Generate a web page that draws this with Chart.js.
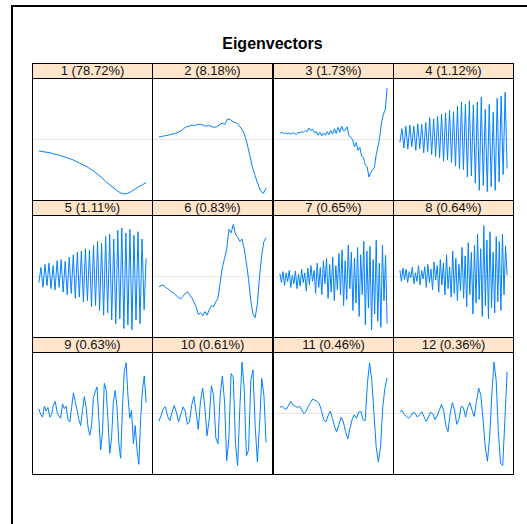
<!DOCTYPE html>
<html>
<head>
<meta charset="utf-8">
<script src="https://cdn.jsdelivr.net/npm/chart.js@4/dist/chart.umd.min.js"></script>
<style>
  html, body { margin: 0; padding: 0; background: #fff; }
  body { width: 527px; height: 524px; position: relative; overflow: hidden;
         font-family: "Liberation Sans", Arial, sans-serif; }
  .frame { position: absolute; left: 11px; top: 5px; width: 600px; height: 600px;
           border: 2px solid #000; box-sizing: border-box; }
  .title { position: absolute; left: 32px; width: 481px; top: 35px; text-align: center;
           font-weight: bold; font-size: 16px; color: #000; }
  .strip { position: absolute; box-sizing: border-box; border: 1px solid #000;
           background: #ffe5cc; font-size: 13px; line-height: 14px; text-align: center; color: #111; }
  .panel { position: absolute; box-sizing: border-box; border: 1px solid #000; background: #fff; }
  .panel canvas { position: absolute; left: 0; top: 0; }
</style>
</head>
<body>
<div class="frame"></div>
<div class="title">Eigenvectors</div>
<div id="grid"></div>
<script>
// Component numbers and their share of the total (percent)
const components = [1, 2, 3, 4, 5, 6, 7, 8, 9, 10, 11, 12];
const shares = [78.72, 8.18, 1.73, 1.12, 1.11, 0.83, 0.65, 0.64, 0.63, 0.61, 0.46, 0.36];

// Eigenvector values, one array per component
const ev1 = [-0.19, -0.20, -0.21, -0.22, -0.24, -0.25, -0.27, -0.29, -0.31, -0.33,
             -0.36, -0.39, -0.42, -0.45, -0.49, -0.53, -0.58, -0.63, -0.69, -0.74,
             -0.79, -0.84, -0.88, -0.90, -0.89, -0.86, -0.82, -0.78, -0.75, -0.71];

const ev2 = [0.04, 0.05, 0.06, 0.07, 0.08, 0.09, 0.10, 0.12, 0.14, 0.18,
             0.21, 0.22, 0.24, 0.23, 0.25, 0.25, 0.24, 0.22, 0.23, 0.22,
             0.20, 0.21, 0.24, 0.27, 0.25, 0.34, 0.33, 0.29, 0.28, 0.24,
             0.18, 0.10, -0.05, -0.25, -0.45, -0.60, -0.73, -0.85, -0.89, -0.80];

const ev3 = [0.10, 0.12, 0.10, 0.11, 0.09, 0.11, 0.09, 0.11, 0.10, 0.08,
             0.12, 0.11, 0.13, 0.12, 0.15, 0.13, 0.19, 0.15, 0.17, 0.11,
             0.13, 0.07, 0.12, 0.06, 0.11, 0.07, 0.13, 0.08, 0.15, 0.09,
             0.18, 0.10, 0.20, 0.12, 0.22, 0.14, 0.16, 0.21, 0.06, 0.04,
             0.00, -0.12, -0.05, -0.18, -0.13, -0.28, -0.30, -0.42, -0.45, -0.62,
             -0.55, -0.50, -0.46, -0.25, -0.12, 0.05, 0.30, 0.42, 0.50, 0.85];

const ev4 = [-0.05, 0.18, -0.14, 0.22, -0.16, 0.24, -0.12, 0.22, -0.18, 0.26,
             -0.15, 0.25, -0.22, 0.28, -0.20, 0.36, -0.25, 0.34, -0.28, 0.38,
             -0.30, 0.42, -0.36, 0.44, -0.34, 0.48, -0.38, 0.46, -0.44, 0.55,
             -0.48, 0.62, -0.50, 0.58, -0.62, 0.64, -0.60, 0.57, -0.72, 0.62,
             -0.84, 0.70, -0.76, 0.50, -0.86, 0.58, -0.78, 0.45, -0.84, 0.68,
             -0.70, 0.72, -0.58, 0.78, -0.48];

const ev5 = [-0.10, 0.15, -0.18, 0.20, -0.15, 0.22, -0.20, 0.18, -0.22, 0.26,
             -0.18, 0.28, -0.26, 0.25, -0.30, 0.32, -0.28, 0.36, -0.36, 0.40,
             -0.34, 0.42, -0.42, 0.46, -0.40, 0.44, -0.50, 0.52, -0.48, 0.58,
             -0.56, 0.55, -0.64, 0.66, -0.60, 0.70, -0.72, 0.62, -0.78, 0.76,
             -0.70, 0.80, -0.86, 0.72, -0.80, 0.78, -0.88, 0.68, -0.72, 0.74,
             -0.78, 0.62, -0.55, 0.30];

const ev6 = [-0.17, -0.15, -0.14, -0.18, -0.20, -0.23, -0.26, -0.28, -0.32, -0.35,
             -0.37, -0.33, -0.28, -0.25, -0.30, -0.35, -0.42, -0.50, -0.63, -0.60,
             -0.65, -0.58, -0.64, -0.55, -0.48, -0.50, -0.42, -0.36, -0.10, 0.15,
             0.30, 0.45, 0.78, 0.72, 0.86, 0.70, 0.65, 0.58, 0.62, 0.45,
             0.22, -0.05, -0.40, -0.62, -0.68, -0.45, 0.00, 0.35, 0.58, 0.64];

const ev7 = [0.05, -0.10, 0.08, -0.15, 0.06, -0.08, 0.10, -0.18, 0.02, -0.12,
             0.09, -0.20, 0.04, -0.16, 0.12, -0.10, 0.06, -0.24, 0.14, -0.14,
             0.18, -0.08, 0.10, -0.28, 0.22, -0.18, 0.15, -0.30, 0.26, -0.12,
             0.30, -0.36, 0.20, -0.26, 0.32, -0.40, 0.18, -0.22, 0.38, -0.30,
             0.44, -0.48, 0.26, -0.38, 0.52, -0.20, 0.40, -0.56, 0.30, -0.44,
             0.48, -0.66, 0.36, -0.30, 0.58, -0.80, 0.42, -0.52, 0.50, -0.88,
             0.28, -0.62, 0.60, -0.74, 0.22, -0.84, 0.52, -0.40, 0.35, -0.78];

const ev8 = [0.10, -0.08, 0.14, -0.05, 0.12, -0.10, 0.08, -0.02, 0.15, -0.12,
             0.06, -0.08, 0.18, -0.14, 0.10, -0.04, 0.16, -0.18, 0.20, -0.10,
             0.12, -0.22, 0.24, -0.06, 0.18, -0.26, 0.28, -0.14, 0.22, -0.30,
             0.36, -0.20, 0.16, -0.34, 0.42, -0.28, 0.30, -0.40, 0.20, -0.24,
             0.48, -0.36, 0.34, -0.50, 0.56, -0.30, 0.40, -0.62, 0.52, -0.44,
             0.70, -0.38, 0.46, -0.66, 0.84, -0.48, 0.60, -0.70, 0.74, -0.52,
             0.40, -0.60, 0.66, -0.42, 0.58, -0.56, 0.70, -0.30, 0.50, 0.02];

const ev9 = [0.08, -0.02, -0.06, 0.12, 0.04, 0.10, -0.06, -0.02, 0.14, 0.20,
             0.02, -0.04, -0.08, 0.16, 0.08, 0.12, -0.10, -0.14, 0.10, 0.34,
             0.20, 0.06, -0.10, -0.20, 0.05, 0.28, 0.10, -0.22, -0.36, -0.20,
             0.26, 0.36, 0.44, -0.10, -0.60, -0.30, 0.50, 0.40, -0.10, -0.66,
             -0.40, 0.20, 0.38, 0.10, -0.50, -0.74, 0.10, 0.70, 0.84, 0.30,
             -0.08, 0.05, -0.50, -0.20, -0.60, -0.84, -0.10, 0.40, 0.62, 0.18];

const ev10 = [-0.13, -0.03, 0.08, 0.11, -0.05, -0.12, 0.02, 0.13, 0.02, -0.14,
              -0.02, 0.11, 0.04, -0.18, -0.14, 0.14, 0.28, 0.02, -0.26, 0.20,
              0.42, 0.10, -0.37, -0.10, 0.46, 0.30, -0.40, -0.50, 0.30, 0.62,
              0.20, -0.78, -0.40, 0.66, 0.60, -0.50, -0.86, 0.10, 0.85, 0.40,
              -0.70, -0.60, 0.55, 0.72, -0.20, -0.80, -0.20, 0.58, 0.30, -0.48];

const ev11 = [0.10, 0.12, 0.08, 0.07, 0.14, 0.20, 0.14, 0.12, 0.10, 0.12,
              0.06, 0.00, 0.04, 0.12, 0.18, 0.24, 0.22, 0.20, 0.16, 0.05,
              -0.10, -0.14, -0.04, 0.04, -0.08, -0.22, -0.30, -0.18, -0.06, -0.14,
              -0.30, -0.42, -0.25, -0.10, -0.02, -0.08, 0.02, 0.04, -0.10, -0.12,
              0.50, 0.84, 0.55, 0.00, -0.55, -0.80, -0.55, 0.10, 0.42, 0.59];

const ev12 = [0.03, 0.05, -0.02, -0.05, -0.08, -0.04, 0.02, 0.00, -0.06, -0.02,
              0.03, -0.05, -0.13, -0.06, 0.02, 0.00, -0.10, -0.04, 0.05, 0.15,
              0.05, -0.20, -0.30, 0.00, 0.18, 0.05, -0.18, -0.10, 0.12, 0.10,
              -0.06, 0.10, 0.18, 0.05, -0.05, 0.20, 0.42, 0.30, -0.10, -0.55,
              -0.79, -0.40, 0.30, 0.85, 0.55, -0.30, -0.82, -0.86, -0.10, 0.69];

const vectors = [ev1, ev2, ev3, ev4, ev5, ev6, ev7, ev8, ev9, ev10, ev11, ev12];

// Trellis layout: 4 columns x 3 rows of strip + panel
const colLeft = [32, 152, 273, 393];
const colWidth = 121;
const rowTop = [63, 200, 337];
const stripHeight = 16;
const panelHeight = 123;

const grid = document.getElementById('grid');

components.forEach((comp, k) => {
  const col = k % 4, row = Math.floor(k / 4);
  const x0 = colLeft[col], y0 = rowTop[row];

  const strip = document.createElement('div');
  strip.className = 'strip';
  Object.assign(strip.style, { left: x0 + 'px', top: y0 + 'px',
    width: colWidth + 'px', height: stripHeight + 'px' });
  strip.textContent = comp + ' (' + shares[k].toFixed(2) + '%)';
  grid.appendChild(strip);

  const panel = document.createElement('div');
  panel.className = 'panel';
  Object.assign(panel.style, { left: x0 + 'px', top: (y0 + stripHeight - 1) + 'px',
    width: colWidth + 'px', height: panelHeight + 'px' });
  const canvas = document.createElement('canvas');
  canvas.width = colWidth - 2;
  canvas.height = panelHeight - 2;
  canvas.style.width = (colWidth - 2) + 'px';
  canvas.style.height = (panelHeight - 2) + 'px';
  panel.appendChild(canvas);
  grid.appendChild(panel);

  const values = vectors[k];
  const n = values.length;
  const pad = 0.055 * (n - 1);

  new Chart(canvas, {
    type: 'line',
    data: {
      labels: values.map((_, i) => i + 1),
      datasets: [{
        data: values.map((v, i) => ({ x: i + 1, y: v })),
        borderColor: '#0080ff',
        borderWidth: 1,
        pointRadius: 0,
        tension: 0,
        fill: false
      }]
    },
    options: {
      responsive: false,
      animation: false,
      devicePixelRatio: 1,
      layout: { padding: 0 },
      plugins: { legend: { display: false }, tooltip: { enabled: false }, title: { display: false } },
      scales: {
        x: { type: 'linear', display: false, min: 1 - pad, max: n + pad },
        y: {
          type: 'linear', min: -1, max: 1, display: true,
          ticks: { display: false, stepSize: 1 },
          border: { display: false },
          grid: {
            drawTicks: false,
            color: ctx => (ctx.tick && ctx.tick.value === 0) ? '#e5e5e5' : 'rgba(0,0,0,0)',
            lineWidth: 1
          }
        }
      }
    }
  });
});
</script>
</body>
</html>
